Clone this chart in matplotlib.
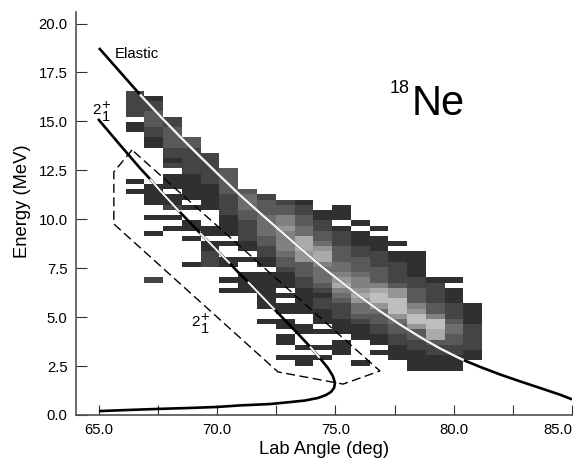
import numpy as np
import matplotlib
matplotlib.use("Agg")
import matplotlib.pyplot as plt
from matplotlib.colors import LinearSegmentedColormap, Normalize

plt.rcParams['font.family'] = ['Liberation Sans', 'DejaVu Sans']

# Yield per angle column: (first energy bin counted from the top, levels)
col_00 = [(0, [2, 2, 2, 2, 2]), (6, [1, 1]), (17, [1]), (19, [1])]
col_01 = [(1, [1, 2, 2, 3, 3, 3, 2, 2, 1, 1]), (18, [1, 1, 1, 1]), (24, [1]), (27, [1]), (36, [2])]
col_02 = [(5, [2, 2, 3, 3, 3, 3, 2, 2, 1, 2]), (16, [1, 1, 1]), (20, [1, 1, 2]), (24, [1]), (26, [1])]
col_03 = [(9, [3, 3, 2, 2, 2, 2, 2, 1, 1, 1, 1, 1]), (22, [1]), (25, [1, 1]), (28, [1]), (33, [1])]
col_04 = [(12, [2, 2, 2, 2, 2, 2, 1, 1, 1, 1, 1]), (26, [1, 1]), (29, [1, 1, 2, 2, 2])]
col_05 = [(15, [3, 3, 3, 3, 3, 2, 2, 2, 2, 1, 1, 1, 1]), (29, [1]), (32, [1, 1]), (36, [1]), (38, [1])]
col_06 = [(19, [3, 4, 4, 4, 3, 3, 2, 2, 2, 2, 1, 1]), (32, [1]), (35, [1, 1, 1, 1])]
col_07 = [(20, [2, 3, 3, 3, 4, 4, 4, 4, 3, 3, 2, 2, 1, 1]), (35, [1, 1, 1, 1, 1, 1, 1]), (44, [1])]
col_08 = [(21, [2, 3, 3, 5, 5, 6, 5, 5, 5, 5, 4, 3, 3, 2, 1, 1, 1]), (39, [1]), (41, [1, 1]),
          (44, [1, 1]), (47, [1, 1]), (51, [1])]
col_09 = [(21, [1, 2, 2, 3, 3, 4, 4, 7, 7, 7, 6, 6, 3, 3, 3, 2, 2, 1, 1, 1, 1, 1]), (45, [1, 1]),
          (49, [1]), (51, [1, 1])]
col_10 = [(23, [1, 1, 2, 2, 3, 3, 4, 6, 7, 7, 5, 4, 4, 4, 3, 2, 1, 2, 2, 1, 1, 1]), (46, [1]),
          (49, [1]), (51, [1])]
col_11 = [(22, [1, 1, 1]), (26, [1, 2, 2, 2, 3, 3, 3, 4, 4, 5, 6, 7, 5, 4, 3, 2, 2, 2, 1, 1, 1]),
          (48, [1, 1, 1])]
col_12 = [(25, [1]), (27, [1, 1, 1, 2, 2, 3, 3, 3, 4, 5, 5, 6, 7, 6, 4, 4, 3, 2, 1, 1, 1]), (52, [1])]
col_13 = [(26, [1]), (28, [1, 1, 1, 2, 2, 2, 3, 3, 3, 5, 7, 8, 8, 6, 4, 3, 3, 2, 2, 1, 1]), (50, [1])]
col_14 = [(29, [1]), (31, [1, 1, 2, 2, 2, 2, 3, 6, 6, 8, 8, 8, 6, 4, 3, 3, 2, 2, 1, 1, 1])]
col_15 = [(31, [1, 1, 1, 1, 1, 2, 2, 3, 3, 3, 5, 6, 8, 8, 6, 3, 3, 2, 2, 1, 1, 1, 1])]
col_16 = [(36, [1, 2, 2, 2, 2, 3, 3, 5, 8, 8, 7, 7, 3, 2, 2, 1, 1, 1])]
col_17 = [(36, [1]), (38, [1, 1, 1, 2, 2, 2, 3, 4, 4, 3, 3, 2, 2, 1, 1, 1])]
col_18 = [(41, [1, 1, 1, 1, 2, 2, 2, 2, 2, 1, 1])]
columns = [col_00, col_01, col_02, col_03, col_04, col_05, col_06, col_07, col_08, col_09,
           col_10, col_11, col_12, col_13, col_14, col_15, col_16, col_17, col_18]

# Kinematic curves
elastic_angle = [65.00, 65.89, 66.73, 67.58, 68.42, 69.27, 70.12, 70.96, 71.81, 72.65, 73.50, 74.34,
                 75.19, 76.03, 76.88, 77.73, 78.57, 79.42, 80.26, 80.43, 81.11, 81.96, 82.80, 83.65,
                 84.49, 85.00]
elastic_energy = [18.75, 17.53, 16.38, 15.28, 14.23, 13.21, 12.21, 11.24, 10.32, 9.43, 8.53, 7.66,
                  6.85, 6.06, 5.31, 4.62, 3.99, 3.40, 2.89, 2.80, 2.46, 2.07, 1.72, 1.38,
                  1.04, 0.80]
upper_angle = [64.96, 65.89, 66.73, 67.16, 67.58, 68.42, 69.27, 70.12, 70.54, 70.96, 71.30, 71.81,
               72.44, 72.65, 73.50, 73.92, 74.34, 74.68, 74.89, 74.98]
upper_energy = [15.13, 13.80, 12.62, 12.06, 11.47, 10.37, 9.30, 8.25, 7.74, 7.20, 6.80, 6.16,
                5.37, 5.11, 4.04, 3.50, 2.91, 2.40, 1.99, 1.64]
lower_angle = [74.98, 74.94, 74.81, 74.60, 74.26, 73.71, 73.08, 72.23, 70.96, 69.99, 68.85, 67.49, 66.31, 65.00]
lower_energy = [1.64, 1.38, 1.18, 1.02, 0.87, 0.74, 0.66, 0.56, 0.49, 0.41, 0.36, 0.31, 0.26, 0.20]
gate_angle = [66.4, 65.63, 65.63, 72.57, 75.32, 76.88, 66.4]
gate_energy = [13.54, 12.42, 9.76, 2.2, 1.58, 2.25, 13.54]

y_ticks = [0.0, 2.5, 5.0, 7.5, 10.0, 12.5, 15.0, 17.5, 20.0]
x_ticks = [65.0, 67.5, 70.0, 72.5, 75.0, 77.5, 80.0, 82.5, 85.0]
x_tick_labels = ['65.0', '', '70.0', '', '75.0', '', '80.0', '', '85.0']

W, H = 579, 459
fig = plt.figure(figsize=(W / 100, H / 100), dpi=100)
ax = fig.add_axes([76 / W, (H - 415) / H, (572 - 76) / W, (415 - 12) / H])
ax.set_xlim(64.03, 85.0)
ax.set_ylim(0, 20.59)

n_rows = 54
grid = np.zeros((n_rows, len(columns)))
for c, runs in enumerate(columns):
    for first, levels in runs:
        grid[first:first + len(levels), c] = levels
x_edges = np.linspace(66.13, 81.2, len(columns) + 1)
y_edges = np.linspace(16.57, 2.26, n_rows + 1)
cmap = LinearSegmentedColormap.from_list('g', ['#1c1c1c', '#d2d2d2'])
ax.pcolormesh(x_edges, y_edges, np.ma.masked_equal(grid, 0), cmap=cmap,
              norm=Normalize(0, 9), linewidth=0, rasterized=True)

# Curves: black on white paper, white across the dark cells
ax.plot(elastic_angle, elastic_energy, color='black', lw=1.9, solid_capstyle='butt', zorder=3)
ea = np.array(elastic_angle)
ee = np.array(elastic_energy)
m = (ea >= 66.7) & (ea <= 80.43)
ax.plot(ea[m], ee[m], color='#f4f4f4', lw=1.8, solid_capstyle='butt', zorder=4)

ax.plot(upper_angle + lower_angle, upper_energy + lower_energy, color='black', lw=1.9,
        solid_capstyle='butt', zorder=3)
ua = np.array(upper_angle)
ue = np.array(upper_energy)
for lo, hi in [(67.16, 68.42), (69.27, 70.54), (71.30, 72.44), (73.92, 74.34)]:
    s = (ua >= lo) & (ua <= hi)
    ax.plot(ua[s], ue[s], color='#f4f4f4', lw=1.5, solid_capstyle='butt', zorder=4)

ax.plot(gate_angle, gate_energy, color='black', lw=1.0, linestyle=(0, (6.5, 3.2)), zorder=5)

ax.spines['top'].set_visible(False)
ax.spines['right'].set_visible(False)
for sp in ('left', 'bottom'):
    ax.spines[sp].set_color('#505050')
    ax.spines[sp].set_linewidth(1.2)
ax.set_xticks(x_ticks)
ax.set_xticklabels(x_tick_labels)
ax.set_yticks(y_ticks)
ax.set_yticklabels([f'{t:.1f}' for t in y_ticks])
ax.tick_params(axis='x', direction='in', length=7.5, width=0.8, color='#333333', labelsize=10.7, pad=6)
ax.tick_params(axis='y', direction='in', length=8, width=0.8, color='#333333', labelsize=10.7, pad=6)
ax.get_xticklabels()[-1].set_ha('right')

ax.set_xlabel('Lab Angle (deg)', fontsize=13.2, labelpad=3)
ax.set_ylabel('Energy (MeV)', fontsize=13.2, labelpad=4)
ax.yaxis.set_label_coords((31 - 76) / (572 - 76), (415 - 201) / (415 - 12))


def px(x, y):
    return x / W, 1 - y / H


fig.text(*px(115, 54), 'Elastic', fontsize=10.8, ha='left', va='center')
fig.text(*px(390, 93), '18', fontsize=13, ha='left', va='baseline')
fig.text(*px(412, 115), 'Ne', fontsize=30, ha='left', va='baseline')
for x0, y0 in [(92, 114), (191, 326)]:
    fig.text(*px(x0, y0), '2', fontsize=11, ha='left', va='baseline')
    fig.text(*px(x0 + 9.5, y0 - 3), '+\n1', fontsize=10.5, ha='left', va='center', linespacing=0.8)

fig.savefig('out.png', dpi=100)
